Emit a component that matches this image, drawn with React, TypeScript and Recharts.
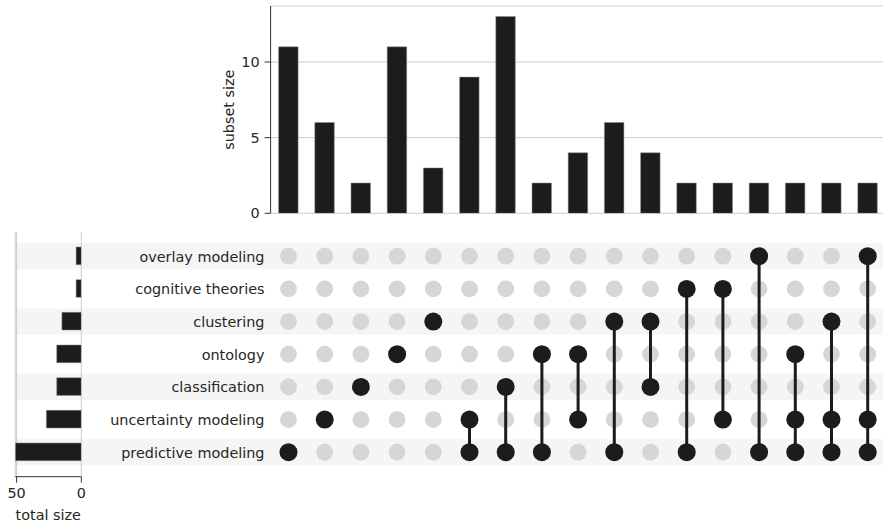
import { BarChart, Bar, XAxis, YAxis, CartesianGrid, ScatterChart, Scatter, ReferenceArea } from 'recharts';

// sets, top to bottom in the matrix
const setNames = [
  'overlay modeling',
  'cognitive theories',
  'clustering',
  'ontology',
  'classification',
  'uncertainty modeling',
  'predictive modeling'
];
const setTotals = [4, 4, 15, 19, 19, 27, 51];

// one entry per intersection column, left to right
const subsetSizes = [11, 6, 2, 11, 3, 9, 13, 2, 4, 6, 4, 2, 2, 2, 2, 2, 2];
const subsetMembers = [
  ['predictive modeling'],
  ['uncertainty modeling'],
  ['classification'],
  ['ontology'],
  ['clustering'],
  ['uncertainty modeling', 'predictive modeling'],
  ['classification', 'predictive modeling'],
  ['ontology', 'predictive modeling'],
  ['ontology', 'uncertainty modeling'],
  ['clustering', 'predictive modeling'],
  ['clustering', 'classification'],
  ['cognitive theories', 'predictive modeling'],
  ['cognitive theories', 'uncertainty modeling'],
  ['overlay modeling', 'predictive modeling'],
  ['ontology', 'uncertainty modeling', 'predictive modeling'],
  ['clustering', 'uncertainty modeling', 'predictive modeling'],
  ['overlay modeling', 'uncertainty modeling', 'predictive modeling']
];

const subsetTicks = [0, 5, 10];
const totalTicks = [0, 50];
const shadedRows = [0, 2, 4, 6];

const INK = '#1c1c1c';
const TEXT = '#262626';
const GRID = '#cccccc';
const FONT = 14.4;

const subsetData = subsetSizes.map((size, i) => ({ id: `s${i}`, size }));
const totalData = setNames.map((name, i) => ({ name, total: setTotals[i] }));

const matrixDots = subsetMembers.flatMap((members, col) =>
  setNames.map((name, row) => ({ x: col, y: row, on: members.includes(name) }))
);
const offDots = matrixDots.filter((d) => !d.on);
const onDots = matrixDots.filter((d) => d.on);

const connectors = subsetMembers
  .map((members, col) => {
    const rows = members.map((m) => setNames.indexOf(m));
    return { col, n: rows.length, pts: [{ x: col, y: Math.min(...rows) }, { x: col, y: Math.max(...rows) }] };
  })
  .filter((c) => c.n > 1);

const Dot = (r: number, fill: string) => (props: any) => (
  <circle cx={props.cx} cy={props.cy} r={r} fill={fill} />
);

const RowLabel = ({ y, payload }: any) => (
  <text x={264.5} y={y} dy="0.36em" textAnchor="end" fontSize={FONT} fill={TEXT}>
    {payload.value}
  </text>
);

// rotated y-axis title, centred on the axis
const SubsetTitle = ({ viewBox }: any) => {
  const x = viewBox.x + 28;
  const y = viewBox.y + viewBox.height / 2;
  return (
    <text x={x} y={y} dy="0.36em" textAnchor="middle" fontSize={FONT} fill={TEXT} transform={`rotate(-90, ${x}, ${y})`}>
      subset size
    </text>
  );
};

const layer = { position: 'absolute' as const, left: 0, top: 0 };

export default function App() {
  return (
    <div
      style={{
        position: 'absolute',
        left: 0,
        top: 0,
        width: 883,
        height: 524,
        overflow: 'hidden',
        background: '#ffffff',
        fontFamily: '"DejaVu Sans", sans-serif'
      }}
    >
      {/* membership matrix */}
      <div style={layer}>
        <ScatterChart width={886} height={524} margin={{ top: 232, right: 0.2, bottom: 47.3, left: 15.3 }}>
          <XAxis type="number" dataKey="x" domain={[-7.547, 16.5]} allowDataOverflow hide />
          <YAxis type="number" dataKey="y" domain={[-0.741, 6.749]} allowDataOverflow reversed hide />
          {shadedRows.map((r) => (
            <ReferenceArea key={`band-${r}`} y1={r - 0.4} y2={r + 0.4} fill="#f5f5f5" fillOpacity={1} stroke="none" />
          ))}
          <Scatter data={offDots} shape={Dot(8.4, '#d6d6d6')} isAnimationActive={false} />
          {connectors.map((c) => (
            <Scatter
              key={`link-${c.col}`}
              data={c.pts}
              shape={() => <g />}
              line={{ stroke: INK, strokeWidth: 3 }}
              isAnimationActive={false}
            />
          ))}
          <Scatter data={onDots} shape={Dot(9, INK)} isAnimationActive={false} />
        </ScatterChart>
      </div>

      {/* set totals, bars growing to the left */}
      <div style={layer}>
        <BarChart
          width={270}
          height={524}
          data={totalData}
          layout="vertical"
          margin={{ top: 232, right: 0, bottom: 0, left: 15.3 }}
        >
          <CartesianGrid horizontal={false} stroke={GRID} />
          <XAxis
            type="number"
            domain={[0, 51]}
            allowDataOverflow
            reversed
            ticks={totalTicks}
            interval={0}
            height={47.3}
            tickSize={6}
            tickMargin={5}
            stroke="#333333"
            tick={{ fontSize: FONT, fill: TEXT }}
            label={{ value: 'total size', position: 'insideBottom', offset: 4, fontSize: FONT, fill: TEXT }}
          />
          <YAxis
            type="category"
            dataKey="name"
            orientation="right"
            width={188.7}
            padding={{ top: 8, bottom: 8 }}
            axisLine={false}
            tickLine={false}
            interval={0}
            tick={RowLabel}
          />
          <Bar dataKey="total" fill={INK} stroke="#8a8a8a" strokeWidth={0.5} barSize={17.7} isAnimationActive={false} />
        </BarChart>
      </div>

      {/* intersection sizes */}
      <div style={layer}>
        <BarChart width={886} height={220} data={subsetData} margin={{ top: 6, right: 0, bottom: 6.7, left: 200.6 }}>
          <CartesianGrid vertical={false} stroke={GRID} />
          <XAxis dataKey="id" hide />
          <YAxis
            domain={[0, 13.7]}
            allowDataOverflow
            ticks={subsetTicks}
            interval={0}
            width={70}
            tickSize={6}
            tickMargin={5}
            stroke="#333333"
            tick={{ fontSize: FONT, fill: TEXT }}
            label={<SubsetTitle />}
          />
          <Bar dataKey="size" fill={INK} stroke="#8a8a8a" strokeWidth={0.5} barSize={19.5} isAnimationActive={false} />
        </BarChart>
      </div>
    </div>
  );
}
